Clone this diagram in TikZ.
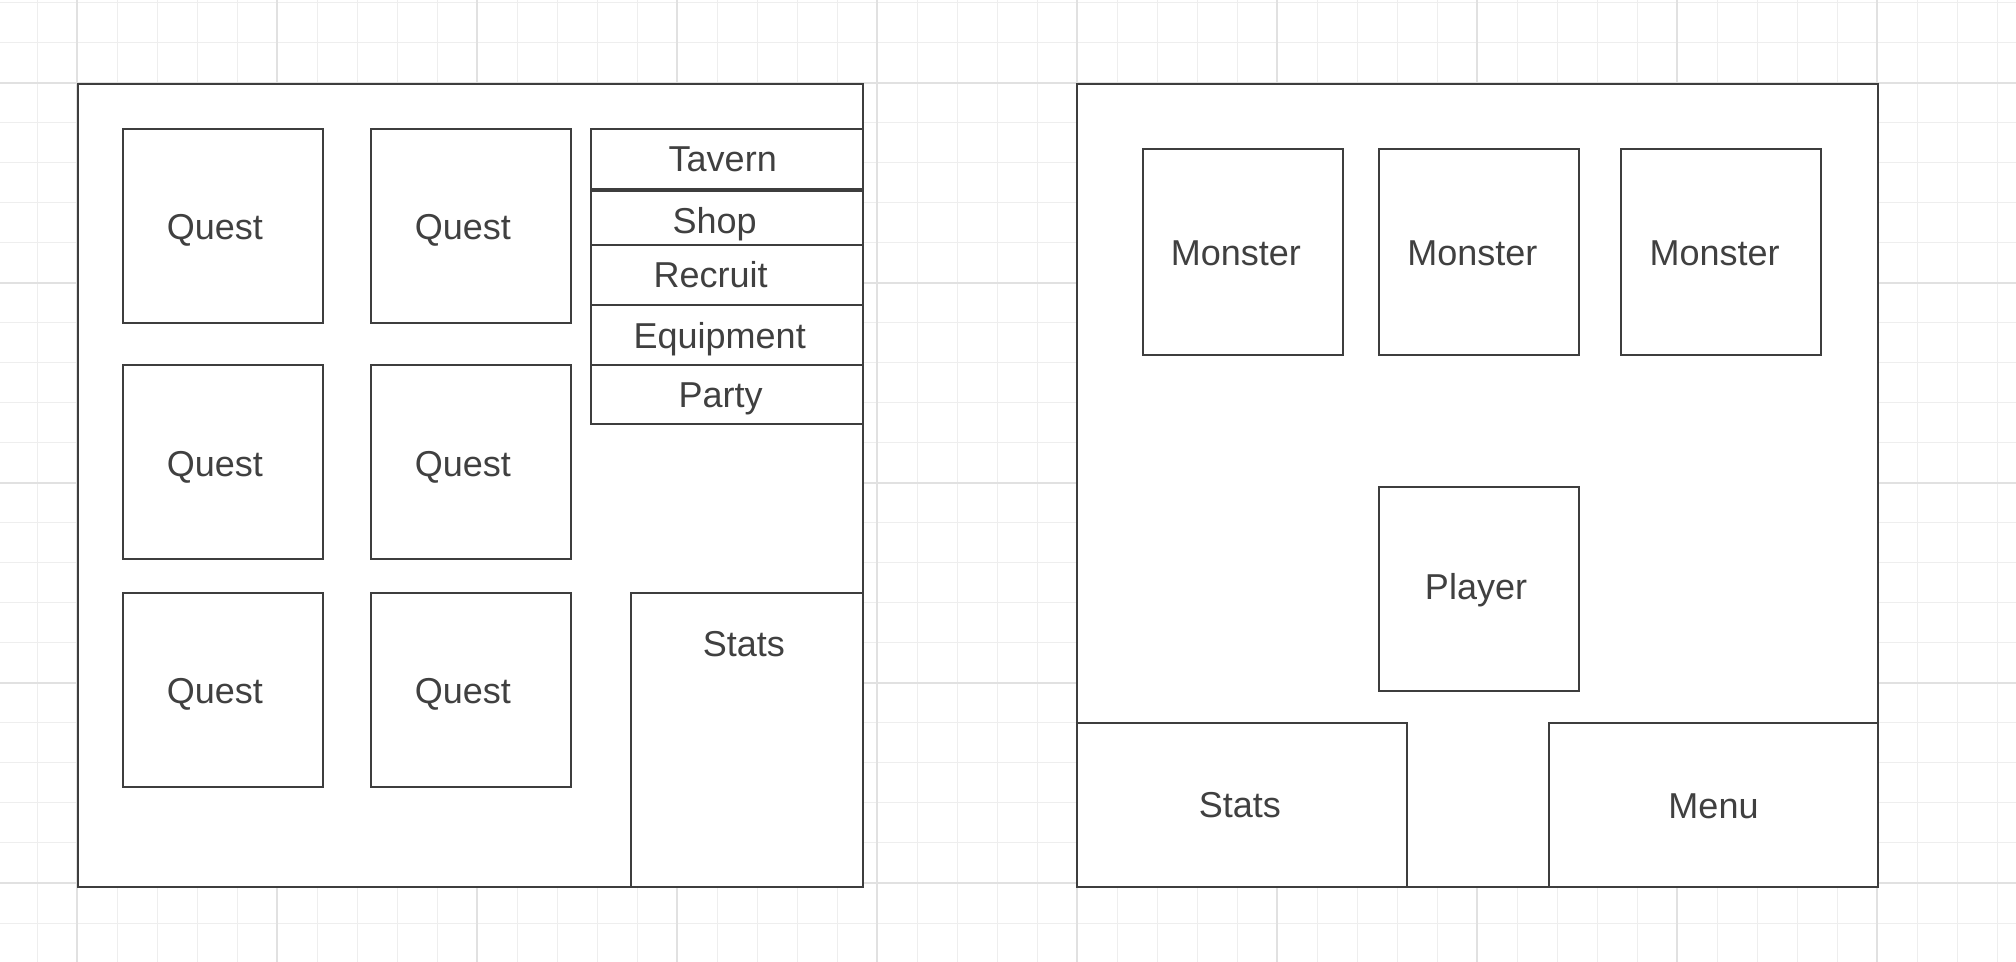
\documentclass[tikz,border=0pt]{standalone}
\usepackage{fontspec}
\setmainfont{Liberation Sans}
\usepackage{xcolor}
\usepackage{tikz}

\newlength\px
\setlength\px{0.01cm}
\definecolor{uiline}{HTML}{3E3E3E}
\definecolor{uitext}{HTML}{404040}
\definecolor{gridlight}{HTML}{EEEEEE}
\definecolor{griddark}{HTML}{E1E1E1}
\newcommand\uifont{\fontsize{10.24}{12}\selectfont}

\tikzset{
  ui/.style={draw=uiline, fill=white, line width=1.9\px, inner sep=0pt},
  lbl/.style={anchor=base, text=uitext, font=\uifont, inner sep=0pt},
  gridminor/.style={draw=gridlight, line width=1\px},
  gridmajor/.style={draw=griddark, line width=1.3\px}
}

\begin{document}
\begin{tikzpicture}[x=\px, y=-\px]
    \useasboundingbox[fill=white] (0, 0) rectangle (2016, 962);
    % grid
    \foreach \gx in {-3, 37, ..., 2037}
      \draw[gridminor] (\gx, 0) -- (\gx, 962);
    \foreach \gy in {3, 43, ..., 963}
      \draw[gridminor] (0, \gy) -- (2016, \gy);
    \foreach \gx in {77, 277, ..., 1877}
      \draw[gridmajor] (\gx, 0) -- (\gx, 962);
    \foreach \gy in {83, 283, ..., 883}
      \draw[gridmajor] (0, \gy) -- (2016, \gy);

    % town screen
    \node[ui, minimum width=784.4\px, minimum height=802.4\px](town) at (470.5, 485.5){};
    % quests
    \node[ui, minimum width=200\px, minimum height=194\px](quest1) at (222.8, 225.9){};
    \node[lbl](quest1txt) at ([xshift=-8\px, yshift=-14\px]quest1.center){Quest};
    \node[ui, minimum width=200\px, minimum height=194\px](quest2) at (470.8, 225.9){};
    \node[lbl](quest2txt) at ([xshift=-8\px, yshift=-14\px]quest2.center){Quest};
    \node[ui, minimum width=200\px, minimum height=194\px](quest3) at (222.8, 461.9){};
    \node[lbl](quest3txt) at ([xshift=-8\px, yshift=-14.5\px]quest3.center){Quest};
    \node[ui, minimum width=200\px, minimum height=194\px](quest4) at (470.8, 461.9){};
    \node[lbl](quest4txt) at ([xshift=-8\px, yshift=-14.5\px]quest4.center){Quest};
    \node[ui, minimum width=200\px, minimum height=194\px](quest5) at (222.8, 689.9){};
    \node[lbl](quest5txt) at ([xshift=-8\px, yshift=-13.3\px]quest5.center){Quest};
    \node[ui, minimum width=200\px, minimum height=194\px](quest6) at (470.8, 689.9){};
    \node[lbl](quest6txt) at ([xshift=-8\px, yshift=-13.3\px]quest6.center){Quest};
    % town menu
    \node[ui, minimum width=272\px, minimum height=60.3\px](tavern) at (726.7, 159.15){};
    \node[lbl](taverntxt) at ([xshift=-4\px, yshift=-12.5\px]tavern.center){Tavern};
    \node[ui, minimum width=272\px, minimum height=54.2\px](shop) at (726.7, 217.9){};
    \node[lbl](shoptxt) at ([xshift=-12\px, yshift=-15.4\px]shop.center){Shop};
    \node[ui, minimum width=272\px, minimum height=59.7\px](recruit) at (726.7, 274.85){};
    \node[lbl](recruittxt) at ([xshift=-16\px, yshift=-12.9\px]recruit.center){Recruit};
    \node[ui, minimum width=272\px, minimum height=60.3\px](equipment) at (726.7, 334.85){};
    \node[lbl](equipmenttxt) at ([xshift=-7\px, yshift=-13.5\px]equipment.center){Equipment};
    \node[ui, minimum width=272\px, minimum height=59.3\px](party) at (726.7, 394.65){};
    \node[lbl](partytxt) at ([xshift=-6\px, yshift=-12.7\px]party.center){Party};
    % town stats
    \node[ui, minimum width=231.7\px, minimum height=294\px](townstats) at (746.85, 739.7){};
    \node[lbl](townstatstxt) at ([xshift=-3\px, yshift=-65\px]townstats.north){Stats};

    % battle screen
    \node[ui, minimum width=801\px, minimum height=802.4\px](battle) at (1477.5, 485.5){};
    % monsters
    \node[ui, minimum width=200.4\px, minimum height=206\px](monster1) at (1242.8, 252){};
    \node[lbl](monster1txt) at ([xshift=-7\px, yshift=-13.7\px]monster1.center){Monster};
    \node[ui, minimum width=200\px, minimum height=206\px](monster2) at (1479, 252){};
    \node[lbl](monster2txt) at ([xshift=-6.6\px, yshift=-13.7\px]monster2.center){Monster};
    \node[ui, minimum width=200\px, minimum height=206\px](monster3) at (1721, 252){};
    \node[lbl](monster3txt) at ([xshift=-6.4\px, yshift=-13.7\px]monster3.center){Monster};
    % player
    \node[ui, minimum width=200\px, minimum height=204\px](player) at (1479, 588.7){};
    \node[lbl](playertxt) at ([xshift=-3\px, yshift=-11.3\px]player.center){Player};
    % battle bar
    \node[ui, minimum width=329.8\px, minimum height=163.7\px](battlestats) at (1241.9, 804.85){};
    \node[lbl](battlestatstxt) at ([xshift=-2\px, yshift=-13\px]battlestats.center){Stats};
    \node[ui, minimum width=329\px, minimum height=163.7\px](menu) at (1713.5, 804.85){};
    \node[lbl](menutxt) at ([yshift=-13.5\px]menu.center){Menu};
\end{tikzpicture}
\end{document}
